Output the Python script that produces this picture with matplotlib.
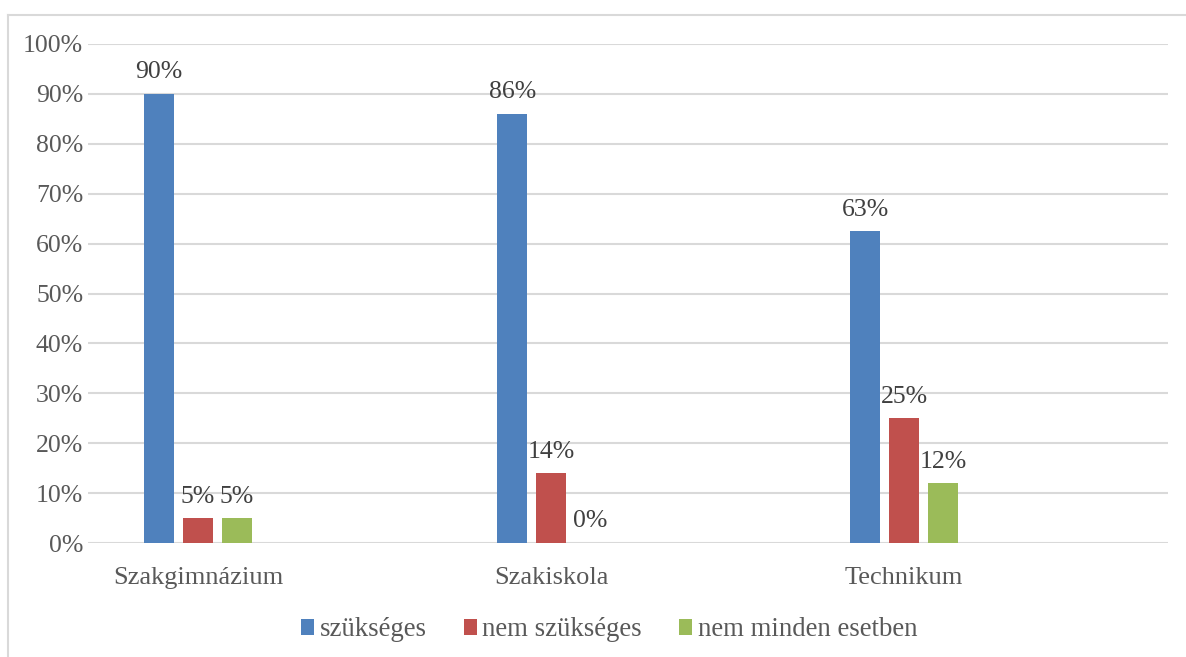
import matplotlib
matplotlib.use("Agg")
import matplotlib.pyplot as plt
import numpy as np
from matplotlib.lines import Line2D

categories = ["Szakgimnázium", "Szakiskola", "Technikum"]
series_names = ["szükséges", "nem szükséges", "nem minden esetben"]
szukseges = [0.90, 0.86, 0.625]
nem_szukseges = [0.05, 0.14, 0.25]
nem_minden = [0.05, 0.0, 0.12]
labels_szukseges = ["90%", "86%", "63%"]
labels_nem_szukseges = ["5%", "14%", "25%"]
labels_nem_minden = ["5%", "0%", "12%"]
yticks = [0, 0.1, 0.2, 0.3, 0.4, 0.5, 0.6, 0.7, 0.8, 0.9, 1.0]
ytick_labels = ["0%", "10%", "20%", "30%", "40%", "50%", "60%", "70%", "80%", "90%", "100%"]

colors = ["#4F81BD", "#C0504D", "#9BBB59"]
text_color = "#595959"
plt.rcParams['font.family'] = ['Liberation Serif', 'DejaVu Serif']

W, H = 1186, 657
fig = plt.figure(figsize=(W / 100, H / 100), dpi=100)
ax = fig.add_axes([88 / W, (H - 543) / H, (1168 - 88) / W, (543 - 44) / H])

x = np.arange(len(categories))
step = 353.0
bw = 30 / step
off = 38.8 / step
all_vals = [szukseges, nem_szukseges, nem_minden]
all_labels = [labels_szukseges, labels_nem_szukseges, labels_nem_minden]
for i, (vals, labs) in enumerate(zip(all_vals, all_labels)):
    xs = x + (i - 1) * off
    ax.bar(xs, vals, width=bw, color=colors[i], label=series_names[i], zorder=3)
    for xi, v, lab in zip(xs, vals, labs):
        ax.annotate(lab, (xi, v), xytext=(0, 15.5), textcoords='offset points',
                    ha='center', va='center', fontsize=18.5, color="#404040")

ax.set_xlim(-110 / step, (1168 - 198) / step)
ax.set_ylim(0, 1.0)
ax.set_yticks(yticks)
ax.set_yticklabels(ytick_labels)
ax.set_xticks(x)
ax.set_xticklabels(categories)
ax.tick_params(axis='both', length=0, labelcolor=text_color)
ax.tick_params(axis='y', pad=3.5, labelsize=18.5)
ax.tick_params(axis='x', pad=17, labelsize=19)
ax.grid(axis='y', color="#D9D9D9", linewidth=1.5, zorder=0)
for s in ax.spines.values():
    s.set_visible(False)

# outer frame (top and left visible)
fig.add_artist(Line2D([8 / W, 1.0], [1 - 15 / H, 1 - 15 / H], color="#D9D9D9", linewidth=1.5, transform=fig.transFigure))
fig.add_artist(Line2D([8 / W, 8 / W], [0, 1 - 15 / H], color="#D9D9D9", linewidth=1.5, transform=fig.transFigure))

fig.legend(loc='center', bbox_to_anchor=(609 / W, 1 - 630 / H), ncol=3, frameon=False,
           fontsize=19.3, handlelength=0.5, handleheight=0.5, handletextpad=0.2,
           columnspacing=1.38, labelcolor=text_color)

fig.savefig("out.png", dpi=100)
